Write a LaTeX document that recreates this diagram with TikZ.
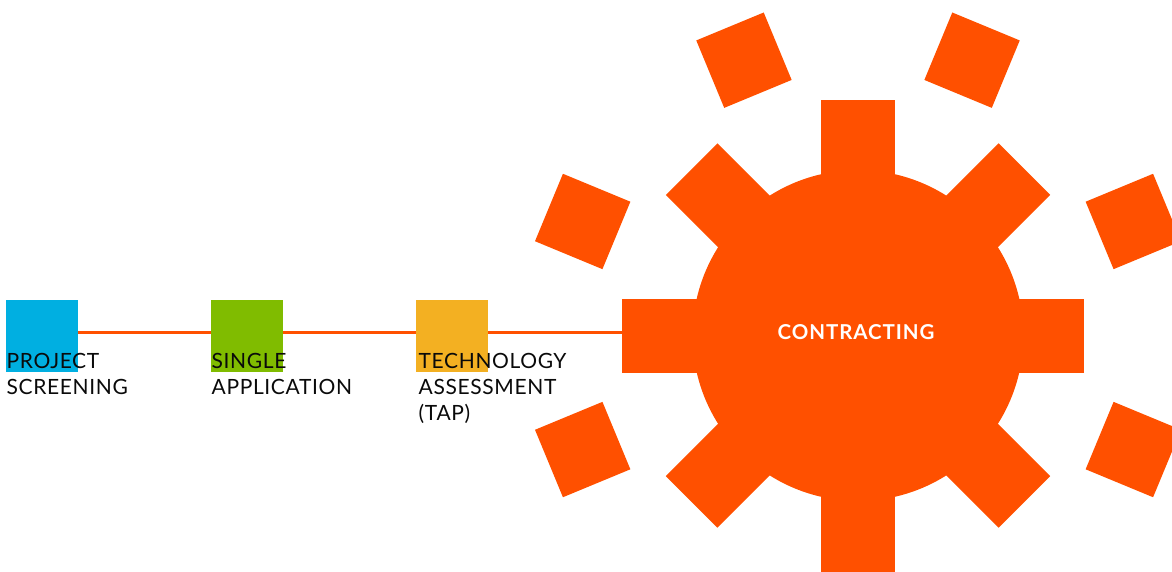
\documentclass[tikz,border=0pt]{standalone}
\usepackage{fontspec}
\setmainfont{Lato}
\newfontfamily\stagefont[LetterSpace=3]{Lato}
\newfontfamily\gearfont[LetterSpace=4.5]{Lato Bold}
\usetikzlibrary{calc}
\definecolor{cblue}{RGB}{0,175,225}
\definecolor{cgreen}{RGB}{128,188,0}
\definecolor{cyellow}{RGB}{243,176,34}
\definecolor{corange}{RGB}{255,80,0}
\definecolor{ctext}{RGB}{10,10,10}
\pgfdeclarelayer{bg}
\pgfsetlayers{bg,main}
\begin{document}
\begin{tikzpicture}[x=1pt,y=-1pt,
  stage/.style={rectangle, minimum size=72pt, inner sep=0pt, outer sep=0pt},
  stagetext/.style={anchor=base west, align=left, inner sep=0pt, font=\stagefont\fontsize{21}{26}\selectfont, text=ctext},
  link/.style={draw=corange, line width=3pt},
  gearpart/.style={fill=corange},
  chip/.style={fill=corange, rectangle, minimum size=73pt, inner sep=0pt, outer sep=0pt},
]
\useasboundingbox (0,0) rectangle (1172,571);
\coordinate (lineY) at (0,332.2);
% gear
\node[gearpart, circle, minimum size=330.8pt, inner sep=0pt] (gear) at (858,335.5) {};
\node[gearpart, rectangle, inner sep=0pt, minimum width=462pt, minimum height=73.7pt] (hbar) at (853,335.85) {};
\node[gearpart, rectangle, inner sep=0pt, minimum width=74pt, minimum height=480pt] (vbar) at (858,340) {};
\fill[gearpart] (665.81,194.93) -- (717.43,143.31) -- (1050.19,476.07) -- (998.57,527.69) -- cycle;
\fill[gearpart] (998.57,143.31) -- (1050.19,194.93) -- (717.43,527.69) -- (665.81,476.07) -- cycle;
% surrounding squares
\node[chip, rotate=22.5]  (c1) at (743.96,60.18) {};
\node[chip, rotate=-22.5] (c2) at (972.04,60.18) {};
\node[chip, rotate=-22.5] (c3) at (582.68,221.46) {};
\node[chip, rotate=22.5]  (c4) at (1133.32,221.46) {};
\node[chip, rotate=22.5]  (c5) at (582.68,449.54) {};
\node[chip, rotate=-22.5] (c6) at (1133.32,449.54) {};
\node[font=\gearfont\fontsize{20.5}{24}\selectfont, text=white, inner sep=0pt] (ct) at (856,332.3) {CONTRACTING};
% stages
\node[stage, fill=cblue] (ps) at (42,336) {};
\node[stage, fill=cgreen] (sa) at (247,336) {};
\node[stage, fill=cyellow] (ta) at (452,336) {};
\begin{pgfonlayer}{bg}
\draw[link] (ps.east |- lineY) -- (hbar.west |- lineY);
\end{pgfonlayer}
\node[stagetext] (pst) at (6.5,394.3) {PROJECT\\SCREENING};
\node[stagetext] (sat) at (211.5,394.3) {SINGLE\\APPLICATION};
\node[stagetext] (tat) at (418.5,420.3) {TECHNOLOGY\\ASSESSMENT\\(TAP)};
\end{tikzpicture}
\end{document}
